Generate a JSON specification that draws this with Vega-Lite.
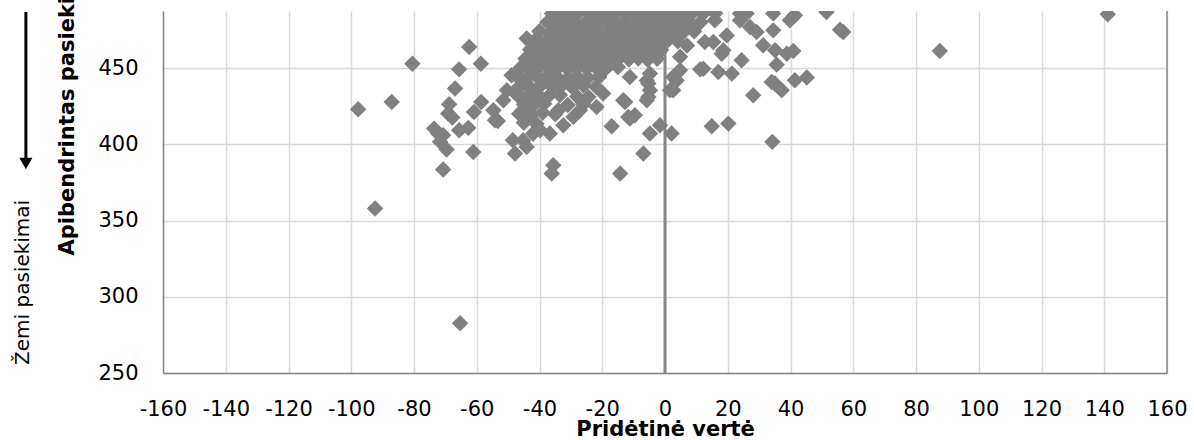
{
  "$schema": "https://vega.github.io/schema/vega-lite/v6.json",
  "autosize": {"type": "none"},
  "width": 1004,
  "height": 362,
  "padding": {"left": 163, "top": 11, "right": 27, "bottom": 67},
  "background": "white",
  "config": {
    "view": {"stroke": null},
    "font": "DejaVu Sans",
    "axis": {"labelFont": "DejaVu Sans", "titleFont": "DejaVu Sans", "labelColor": "#000", "titleColor": "#000"}
  },
  "datasets": {
    "pts": [
      {"x": -97.8, "y": 423.1}, {"x": -87.1, "y": 427.9}, {"x": -80.5, "y": 453}, {"x": -92.4, "y": 358}, {"x": -65.3, "y": 282.6},
      {"x": 87.6, "y": 461.4}, {"x": 141.1, "y": 485.4},
      {"x": -62.4, "y": 464}, {"x": -58.7, "y": 453}, {"x": -65.6, "y": 449.3}, {"x": -66.9, "y": 436.7}, {"x": -68.8, "y": 426.4},
      {"x": -69.1, "y": 420.3}, {"x": -67.8, "y": 417.7}, {"x": -58.6, "y": 427.9}, {"x": -60.9, "y": 421.3}, {"x": -73.6, "y": 410.4},
      {"x": -72.3, "y": 407.2}, {"x": -70.7, "y": 406.1}, {"x": -71.7, "y": 401.7}, {"x": -69.6, "y": 396.7}, {"x": -65.6, "y": 409.3},
      {"x": -62.7, "y": 410.9}, {"x": -61.1, "y": 395.1}, {"x": -70.7, "y": 383.6}, {"x": -54.7, "y": 422.5}, {"x": -53.3, "y": 415.4},
      {"x": -51.5, "y": 429}, {"x": -50.4, "y": 435.6}, {"x": -48.9, "y": 445.4}, {"x": -47.3, "y": 445.4}, {"x": -47.8, "y": 435.1},
      {"x": -48.5, "y": 402.8}, {"x": -47.8, "y": 394.1}, {"x": -44.6, "y": 420.3}, {"x": -44.1, "y": 469.5}, {"x": -43.6, "y": 453.1},
      {"x": -45.2, "y": 402.8}, {"x": -38.8, "y": 464}, {"x": -35.6, "y": 479.3}, {"x": -44.1, "y": 398.4}, {"x": -42, "y": 407.2},
      {"x": -36.7, "y": 407.2}, {"x": -35.6, "y": 386.4}, {"x": -36.1, "y": 381}, {"x": -32.4, "y": 412.6}, {"x": -29.2, "y": 418.1},
      {"x": -27.1, "y": 422.5}, {"x": -24.4, "y": 431.2}, {"x": -21.8, "y": 424.6}, {"x": -19.7, "y": 433.4}, {"x": -17, "y": 412},
      {"x": -14.3, "y": 381}, {"x": -13.3, "y": 429}, {"x": -11.7, "y": 418.1}, {"x": -9.6, "y": 419.2}, {"x": -6.9, "y": 394.1},
      {"x": -4.8, "y": 407.2}, {"x": -1.6, "y": 412.6}, {"x": 2.1, "y": 407.2}, {"x": -5.3, "y": 431.2}, {"x": -5.3, "y": 440},
      {"x": -4.8, "y": 446.5}, {"x": 1.6, "y": 435.6}, {"x": 2.6, "y": 444.3}, {"x": 4.8, "y": 448.7}, {"x": 11.2, "y": 449.3},
      {"x": 17, "y": 447.6}, {"x": 21.3, "y": 446.5}, {"x": 14.9, "y": 412}, {"x": 20.2, "y": 413.7}, {"x": 19.7, "y": 471.6},
      {"x": 24.4, "y": 455.3}, {"x": -11.2, "y": 444.3}, {"x": -12.7, "y": 427.9}, {"x": -11.2, "y": 417}, {"x": 28.1, "y": 432.3},
      {"x": 37.2, "y": 435.6}, {"x": 34.2, "y": 401.7}, {"x": 34, "y": 441}, {"x": 41.4, "y": 442.1}, {"x": 45.2, "y": 443.9},
      {"x": 35.6, "y": 452.4}, {"x": 31.3, "y": 465.1}, {"x": 35.1, "y": 461.8}, {"x": 38.8, "y": 459.6}, {"x": 40.9, "y": 461.4},
      {"x": 29.2, "y": 473.8}, {"x": 34.5, "y": 474.9}, {"x": 39.8, "y": 481.5}, {"x": 41.4, "y": 484.8}, {"x": 55.8, "y": 475.3},
      {"x": 56.8, "y": 473.8}, {"x": 51.5, "y": 487}, {"x": 18.1, "y": 459.6}, {"x": 23.9, "y": 485.9}, {"x": 26, "y": 485.9},
      {"x": 34.5, "y": 485.9}, {"x": 15.4, "y": 467.2}, {"x": 40.9, "y": 483.8}, {"x": 35, "y": 440}, {"x": 12.2, "y": 449.7},
      {"x": 18.6, "y": 461.8}, {"x": 12.7, "y": 467.2}, {"x": 15.9, "y": 481.5}, {"x": 23.9, "y": 481.5}, {"x": 27.1, "y": 477.1},
      {"x": -39.8, "y": 409.3}, {"x": -34, "y": 422.5}, {"x": -54.2, "y": 415.9}, {"x": -5.8, "y": 442}, {"x": -4.8, "y": 435.6},
      {"x": -5.8, "y": 429}, {"x": 2.6, "y": 435.6}, {"x": 3.7, "y": 442}, {"x": 4.8, "y": 457.6}, {"x": 7, "y": 465},
      {"x": -36, "y": 486}, {"x": -33.2, "y": 486.5}, {"x": -30.1, "y": 485.5}, {"x": -27.4, "y": 486.8}, {"x": -24.2, "y": 485.8},
      {"x": -21, "y": 486.4}, {"x": -18.3, "y": 485.6}, {"x": -15.1, "y": 486.9}, {"x": -12.2, "y": 485.7}, {"x": -9.3, "y": 486.2},
      {"x": -6, "y": 485.4}, {"x": -3.1, "y": 486.6}, {"x": 0.2, "y": 485.9}, {"x": 3.1, "y": 486.3}, {"x": 6.3, "y": 485.5},
      {"x": 9, "y": 486.7}, {"x": 12.1, "y": 485.8}, {"x": 16, "y": 486.1},
      {"x": -37.5, "y": 480.2}, {"x": -34.2, "y": 479.6}, {"x": -31, "y": 480.8}, {"x": -28.3, "y": 479.9}, {"x": -25.1, "y": 480.5},
      {"x": -22.2, "y": 479.4}, {"x": -19, "y": 480.7}, {"x": -16.2, "y": 479.8}, {"x": -13.1, "y": 480.3}, {"x": -10, "y": 479.5},
      {"x": -7.2, "y": 480.9}, {"x": -4, "y": 479.7}, {"x": -1.1, "y": 480.4}, {"x": 2, "y": 479.6}, {"x": 5.2, "y": 480.6},
      {"x": 8.1, "y": 479.8}, {"x": 11.3, "y": 480.2},
      {"x": -40, "y": 474.3}, {"x": -36.4, "y": 473.6}, {"x": -33.1, "y": 474.8}, {"x": -30.2, "y": 473.9}, {"x": -27, "y": 474.5},
      {"x": -24.1, "y": 473.4}, {"x": -21.3, "y": 474.7}, {"x": -18, "y": 473.8}, {"x": -15.2, "y": 474.2}, {"x": -12, "y": 473.5},
      {"x": -9.1, "y": 474.9}, {"x": -6.2, "y": 473.7}, {"x": -3, "y": 474.4}, {"x": 0.1, "y": 473.6}, {"x": 3.2, "y": 474.6},
      {"x": 6, "y": 473.9}, {"x": 9.3, "y": 474.3},
      {"x": -41.5, "y": 468.2}, {"x": -38, "y": 467.6}, {"x": -35, "y": 468.8}, {"x": -32.1, "y": 467.9}, {"x": -29, "y": 468.5},
      {"x": -26.2, "y": 467.4}, {"x": -23, "y": 468.7}, {"x": -20.1, "y": 467.8}, {"x": -17.2, "y": 468.3}, {"x": -14, "y": 467.5},
      {"x": -11.1, "y": 468.9}, {"x": -8, "y": 467.7}, {"x": -5.2, "y": 468.4}, {"x": -2, "y": 467.6}, {"x": 1, "y": 468.6},
      {"x": 4.1, "y": 467.8},
      {"x": -43, "y": 462.3}, {"x": -40.2, "y": 461.6}, {"x": -37, "y": 462.8}, {"x": -34.1, "y": 461.9}, {"x": -31, "y": 462.5},
      {"x": -28.2, "y": 461.4}, {"x": -25, "y": 462.7}, {"x": -22.1, "y": 461.8}, {"x": -19.2, "y": 462.3}, {"x": -16, "y": 461.5},
      {"x": -13.1, "y": 462.9}, {"x": -10, "y": 461.7}, {"x": -7.1, "y": 462.4}, {"x": -4, "y": 461.6}, {"x": -1.2, "y": 462.2},
      {"x": -44.5, "y": 456.2}, {"x": -41.5, "y": 455.6}, {"x": -38.5, "y": 456.8}, {"x": -35.5, "y": 455.9}, {"x": -32.5, "y": 456.5},
      {"x": -29.5, "y": 455.4}, {"x": -26.5, "y": 456.7}, {"x": -23.5, "y": 455.8}, {"x": -20.5, "y": 456.3}, {"x": -17.5, "y": 455.5},
      {"x": -14.5, "y": 456.9}, {"x": -11.5, "y": 455.7}, {"x": -8.5, "y": 456.4}, {"x": -5.5, "y": 455.6}, {"x": -2.5, "y": 456.2},
      {"x": -46, "y": 450.3}, {"x": -43, "y": 449.6}, {"x": -40, "y": 450.8}, {"x": -37, "y": 449.9}, {"x": -34, "y": 450.5},
      {"x": -31, "y": 449.4}, {"x": -28, "y": 450.7}, {"x": -25, "y": 449.8}, {"x": -22, "y": 450.3}, {"x": -19, "y": 449.5},
      {"x": -15, "y": 450.9},
      {"x": -47, "y": 444.2}, {"x": -44, "y": 443.6}, {"x": -41, "y": 444.8}, {"x": -38, "y": 443.9}, {"x": -34.5, "y": 444.5},
      {"x": -31, "y": 443.4}, {"x": -28, "y": 444.7}, {"x": -24.5, "y": 443.8}, {"x": -21, "y": 444.3},
      {"x": -46, "y": 438.3}, {"x": -43, "y": 437.6}, {"x": -39.5, "y": 438.8}, {"x": -36, "y": 437.9}, {"x": -33, "y": 438.5},
      {"x": -29.5, "y": 437.4}, {"x": -26, "y": 438.7}, {"x": -22, "y": 437.8},
      {"x": -47, "y": 432.2}, {"x": -44, "y": 431.6}, {"x": -40.5, "y": 432.8}, {"x": -37, "y": 431.9}, {"x": -33.5, "y": 432.5},
      {"x": -28, "y": 431.4},
      {"x": -45, "y": 426.3}, {"x": -42, "y": 425.6}, {"x": -38.5, "y": 426.8}, {"x": -31, "y": 425.9}, {"x": -26, "y": 426.5},
      {"x": -46.5, "y": 420.2}, {"x": -42.5, "y": 419.6}, {"x": -39, "y": 420.8}, {"x": -35, "y": 419.9},
      {"x": -45, "y": 414.3}, {"x": -41, "y": 413.6}
    ]
  },
  "layer": [
    {
      "data": {"values": [{}]},
      "mark": {"type": "rule", "color": "#878787", "strokeWidth": 3},
      "encoding": {"x": {"datum": 0, "type": "quantitative"}}
    },
    {
      "data": {"values": [{}]},
      "mark": {"type": "rule", "color": "#878787", "strokeWidth": 1.5},
      "encoding": {"x": {"datum": 160, "type": "quantitative"}}
    },
    {
      "data": {"name": "pts"},
      "mark": {"type": "point", "shape": "diamond", "filled": true, "size": 270, "color": "#808080", "opacity": 1, "clip": true},
      "encoding": {
        "x": {
          "field": "x", "type": "quantitative",
          "scale": {"domain": [-160, 160], "nice": false, "zero": false},
          "axis": {
            "values": [-160, -140, -120, -100, -80, -60, -40, -20, 0, 20, 40, 60, 80, 100, 120, 140, 160],
            "labelExpr": "'' + datum.value",
            "labelFlush": false, "labelOverlap": false,
            "grid": true, "gridColor": "#d9d9d9", "gridWidth": 1.5,
            "domain": true, "domainColor": "#868686", "domainWidth": 1.5,
            "ticks": false, "tickSize": 0,
            "labelFontSize": 21, "labelPadding": 25,
            "title": "Pridėtinė vertė", "titleFontSize": 21, "titleFontWeight": "bold",
            "titleX": 502, "titleY": 62, "titleBaseline": "alphabetic", "titleAlign": "center"
          }
        },
        "y": {
          "field": "y", "type": "quantitative",
          "scale": {"domain": [250, 487.6], "nice": false, "zero": false},
          "axis": {
            "values": [250, 300, 350, 400, 450],
            "grid": true, "gridColor": "#d9d9d9", "gridWidth": 1.5,
            "domain": true, "domainColor": "#868686", "domainWidth": 1.5,
            "ticks": false, "tickSize": 0,
            "labelFontSize": 21, "labelPadding": 25,
            "title": "Apibendrintas pasiekimų lygis", "titleFontSize": 21, "titleFontWeight": "bold",
            "titleAngle": 270, "titleX": -90, "titleY": 244, "titleAlign": "left", "titleBaseline": "alphabetic"
          }
        }
      }
    },
    {
      "data": {"values": [{}]},
      "mark": {"type": "rule", "color": "#000", "strokeWidth": 3, "clip": false},
      "encoding": {
        "x": {"datum": -203.7, "type": "quantitative"},
        "y": {"datum": 487, "type": "quantitative"},
        "y2": {"datum": 391}
      }
    },
    {
      "data": {"values": [{}]},
      "mark": {"type": "point", "shape": "triangle-down", "filled": true, "size": 170, "color": "#000", "opacity": 1, "clip": false},
      "encoding": {
        "x": {"datum": -203.7, "type": "quantitative"},
        "y": {"datum": 387.5, "type": "quantitative"}
      }
    },
    {
      "data": {"values": [{}]},
      "mark": {"type": "text", "text": "Žemi pasiekimai", "angle": 270, "align": "left", "baseline": "alphabetic", "fontSize": 20, "font": "DejaVu Sans", "color": "#000", "clip": false},
      "encoding": {
        "x": {"datum": -202.8, "type": "quantitative"},
        "y": {"datum": 255.3, "type": "quantitative"}
      }
    }
  ]
}
